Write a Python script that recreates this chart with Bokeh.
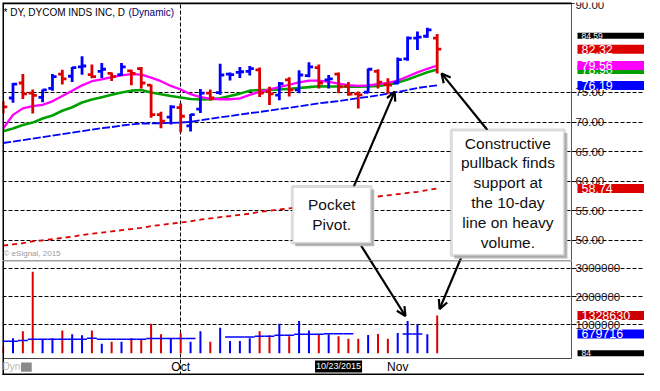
import numpy as np
from bokeh.plotting import figure
from bokeh.layouts import column
from bokeh.models import (Range1d, FixedTicker, NumeralTickFormatter, Label, Span,
                          BoxAnnotation, Arrow, OpenHead, ColumnDataSource, Grid)
from bokeh.embed import file_html
from bokeh.resources import INLINE

NAN = float("nan")

# ---------------- data ----------------
opens = [73.2, 74.06, 76.6, 74.87, 74.17, 75.68, 78.11, 77.74, 79.31, 78.01,
         78.55, 78.22, 78.01, 78.66, 79.03, 76.23, 71.25, 70.81, 72.43, 69.35,
         72.17, 74.87, 74.98, 78.11, 78.4, 78.55, 78.82, 75.14, 74.54, 77.14,
         75.42, 77.85, 79.2, 77.14, 78.11, 76.06, 74.77, 75.03, 78.55, 76.33,
         76.6, 80.66, 84.2, 84.5, 84.18]
highs = [73.5, 76.6, 78.11, 75.51, 75.51, 78.11, 78.82, 79.31, 81.1, 79.73,
         80.0, 78.39, 80.0, 78.82, 79.31, 76.33, 71.74, 72.82, 73.15, 71.36,
         75.58, 75.51, 79.85, 78.39, 79.31, 79.47, 79.2, 75.95, 76.76, 77.57,
         78.76, 80.12, 79.73, 77.95, 78.39, 76.76, 75.14, 79.03, 78.92, 77.41,
         80.93, 84.44, 85.31, 85.96, 84.87]
lows = [71.46, 73.24, 73.89, 71.46, 73.36, 75.3, 76.33, 76.76, 78.01, 77.41,
        77.46, 76.93, 77.85, 76.23, 75.68, 70.71, 68.93, 69.58, 68.28, 68.38,
        71.52, 73.63, 74.6, 77.04, 77.46, 77.85, 74.22, 72.87, 73.68, 74.33,
        74.87, 77.57, 75.68, 75.68, 74.87, 74.44, 72.27, 74.87, 75.68, 74.77,
        76.39, 80.38, 82.17, 84.23, 78.22]
closes = [72.55, 76.39, 74.77, 74.49, 75.42, 77.69, 77.3, 79.2, 79.47, 77.69,
          78.92, 77.69, 79.31, 78.22, 76.6, 71.25, 70.16, 72.55, 70.97, 71.25,
          74.87, 74.06, 77.95, 78.01, 78.5, 79.03, 74.87, 74.77, 76.49, 75.42,
          77.95, 79.31, 76.6, 77.3, 75.95, 74.7, 74.6, 78.92, 76.76, 76.23,
          80.54, 84.18, 84.35, 85.57, 82.32]
volumes = [260000, 530000, 770000, 2880000, 470000, 530000, 800000, 670000, 630000, 800000,
           330000, 400000, 400000, 530000, 470000, 1040000, 670000, 530000, 700000, 400000,
           770000, 400000, 900000, 430000, 430000, 530000, 770000, 630000, 1040000, 600000,
           1140000, 800000, 670000, 660000, 600000, 510000, 510000, 640000, 680000, 510000,
           710000, 1140000, 1000000, 670000, 1328630]
vol_avg = [420000, 420000, 450000, 490000, 490000, 490000, 490000, 490000, 490000, 530000,
           490000, 490000, 490000, 490000, 490000, 520000, 520000, 520000, 520000, 520000,
           NAN, NAN, NAN, 570000, 570000, 570000, 600000, 600000, 630000, 630000,
           670000, 670000, 670000, 690000, 690000, 690000, NAN, NAN, NAN, NAN,
           NAN, 679716, 679716, NAN, NAN]
ma10 = [68.9, 71.2, 72.3, 72.7, 72.9, 73.5, 74.4, 75.3, 76.2, 76.9,
        77.2, 77.6, 77.9, 78.1, 78.0, 77.5, 76.9, 76.1, 75.5, 74.7,
        74.2, 73.95, 73.85, 73.85, 74.0, 74.6, 75.1, 75.5, 75.9, 76.3,
        76.7, 77.0, 77.0, 76.8, 76.5, 76.25, 76.1, 76.2, 76.4, 76.6,
        77.0, 77.7, 78.4, 79.0, 79.56]
ma20 = [68.45, 68.9, 69.5, 69.9, 70.6, 71.1, 71.9, 72.5, 73.3, 73.8,
        74.2, 74.6, 75.0, 75.3, 75.4, 75.0, 74.7, 74.4, 74.15, 73.9,
        73.8, 73.85, 74.0, 74.4, 74.8, 75.3, 75.4, 75.42, 75.5, 75.6,
        75.75, 75.9, 76.05, 76.0, 76.0, 75.95, 75.95, 76.0, 76.1, 76.3,
        76.7, 77.2, 77.8, 78.4, 78.9]
ma50 = [66.45, 66.7, 66.95, 67.2, 67.45, 67.7, 67.95, 68.2, 68.45, 68.7,
        68.95, 69.15, 69.4, 69.6, 69.75, 69.75, 69.8, 69.85, 69.9, 70.05,
        70.3, 70.55, 70.8, 71.0, 71.25, 71.5, 71.7, 71.95, 72.2, 72.4,
        72.65, 72.9, 73.15, 73.35, 73.55, 73.8, 74.05, 74.25, 74.5, 74.8,
        75.1, 75.4, 75.75, 76.0, 76.19]
ma200 = [49.1, 49.3, 49.5, 49.8, 50.0, 50.2, 50.4, 50.6, 50.9, 51.1,
         51.3, 51.5, 51.7, 51.9, 52.1, 52.4, 52.6, 52.8, 53.0, 53.2,
         53.5, 53.7, 53.9, 54.1, 54.3, 54.5, 54.8, 55.0, 55.2, 55.4,
         55.6, 55.8, 56.1, 56.3, 56.5, 56.7, 56.9, 57.1, 57.4, 57.6,
         57.8, 58.0, 58.2, 58.5, 58.74]

# 80.00 and 85.00 sit fully under the value tags in the picture
price_ticks = [50, 55, 60, 65, 70, 75, 90]
price_grid = [50, 55, 60, 65, 70, 75]
vol_ticks = [1000000, 2000000, 3000000]
month_ticks = [18, 40]
month_labels = ["Oct", "Nov"]
cursor_index = 34
cursor_label = "10/23/2015"
last_high_tag = "84.59"
last_high_value = 84.59
title_main = "* DY, DYCOM INDS INC, D"
title_mode = "(Dynamic)"

# ---------------- styles / layout ----------------
RED = "#dd0000"
BLUE = "#0000ff"
MAG = "#ff00ff"
GREEN = "#00a000"
FONT = "Liberation Sans"
TICK = 0.42
TAG_X = 575          # screen px from the frame's left edge
X0, X1 = -0.064, 65.015
AXIS_X = 57.607      # where the price/volume scale sits
P0, P1 = 46.58, 90.21
V0, V1 = -790000, 3275000
V_AXIS = -190000     # bottom line of the volume pane
V_BAND = -719000     # top of the bottom black band

n = len(closes)
x = np.arange(n, dtype=float)
colors = [BLUE if (i > 0 and closes[i] > closes[i - 1]) else RED for i in range(n)]

src = ColumnDataSource(dict(
    x=x, xl=x - TICK, xr=x + TICK, a0=x - 0.5, a1=x + 0.5,
    open=np.array(opens), high=np.array(highs), low=np.array(lows), close=np.array(closes),
    vol=np.array(volumes, dtype=float), vavg=np.array(vol_avg, dtype=float),
    zero=np.zeros(n), color=colors,
    ma10=np.array(ma10), ma20=np.array(ma20), ma50=np.array(ma50), ma200=np.array(ma200),
))

XR = Range1d(X0, X1)


def style_yaxis(fig, ticks, fmt, bounds):
    fig.yaxis.ticker = FixedTicker(ticks=ticks)
    fig.yaxis.formatter = NumeralTickFormatter(format=fmt)
    for ax in fig.yaxis:
        ax.level = "underlay"
        ax.fixed_location = AXIS_X
        ax.bounds = bounds
        ax.axis_line_color = "#555555"
        ax.major_tick_line_color = "#333333"
        ax.major_tick_out = 3
        ax.major_tick_in = 0
        ax.minor_tick_out = 0
        ax.minor_tick_in = 0
        ax.major_label_standoff = 1
        ax.major_label_text_font = FONT
        ax.major_label_text_font_size = "11.5px"
        ax.major_label_text_color = "#101020"


def tag(fig, yv, text, bg, size="12.5px", fg="white"):
    fig.add_layout(Label(x=TAG_X, y=yv, x_units="screen", y_units="data", text=text,
                         text_color=fg, text_font=FONT, text_font_size=size,
                         text_baseline="middle", text_align="left", level="overlay",
                         background_fill_color=bg, background_fill_alpha=1.0,
                         padding=dict(left=4, right=70, top=0, bottom=0)))


# ---------------- price panel ----------------
p = figure(width=644, height=260, x_range=XR, y_range=Range1d(P0, P1),
           output_backend="svg", toolbar_location=None,
           x_axis_location=None, y_axis_location="right",
           min_border_left=2, min_border_right=0, min_border_top=2, min_border_bottom=0)
p.outline_line_color = None
style_yaxis(p, price_ticks, "0.00", "auto")

p.ygrid.ticker = FixedTicker(ticks=price_grid)
p.ygrid.grid_line_color = "black"
p.ygrid.grid_line_dash = "4 2"
p.ygrid.bounds = (X0, AXIS_X)
p.xgrid.visible = False
p.add_layout(Grid(dimension=0, ticker=FixedTicker(ticks=month_ticks[:1]),
                  grid_line_color="black", grid_line_dash="4 2"), "center")

# moving averages
p.line("x", "ma200", source=src, line_color=RED, line_width=1.8, line_dash="5 4")
p.line("x", "ma50", source=src, line_color=BLUE, line_width=1.8, line_dash="8 2")
p.line("x", "ma20", source=src, line_color=GREEN, line_width=2.6)
p.line("x", "ma10", source=src, line_color=MAG, line_width=2.3)

# OHLC bars
p.segment(x0="x", y0="low", x1="x", y1="high", source=src, line_color="color", line_width=2.8)
p.segment(x0="xl", y0="open", x1="x", y1="open", source=src, line_color="color", line_width=2.8)
p.segment(x0="x", y0="close", x1="xr", y1="close", source=src, line_color="color", line_width=2.8)

# frame edges
p.add_layout(Span(location=X0, dimension="height", line_color="black", line_width=3))
p.add_layout(BoxAnnotation(left=X0, right=AXIS_X, bottom=P1 - 0.3, top=P1 + 1,
                           fill_color="black", fill_alpha=1.0, line_color=None))

# title / copyright
p.add_layout(Label(x=1, y=88.6, x_units="screen", text=title_main, text_font=FONT,
                   text_font_size="10px", text_color="black", text_baseline="middle"))
p.add_layout(Label(x=126, y=88.6, x_units="screen", text=title_mode, text_font=FONT,
                   text_font_size="10px", text_color="#000070", text_baseline="middle"))
p.add_layout(Label(x=1, y=47.81, x_units="screen", text="\u00a9 eSignal, 2015", text_font=FONT,
                   text_font_size="8px", text_color="#9a9a9a", text_baseline="middle"))

tag(p, last_high_value, last_high_tag, "black", size="8.5px")
tag(p, closes[-1], f"{closes[-1]:.2f}", RED)
tag(p, ma20[-1], f"{ma20[-1]:.2f}", GREEN)
tag(p, ma10[-1], f"{ma10[-1]:.2f}", MAG)
tag(p, ma50[-1], f"{ma50[-1]:.2f}", BLUE)
tag(p, ma200[-1], f"{ma200[-1]:.2f}", RED)

# arrows in price panel (drawn before the boxes)
AW = 2.2
p.add_layout(Arrow(end=OpenHead(size=9, line_width=AW, line_color="black"),
                   x_start=35.54, y_start=59.08, x_end=39.69, y_end=75.14,
                   line_color="black", line_width=AW))
p.add_layout(Arrow(end=None, x_start=36.13, y_start=49.51, x_end=38.40, y_end=43.51,
                   line_color="black", line_width=AW))
p.add_layout(Arrow(end=OpenHead(size=9, line_width=AW, line_color="black"),
                   x_start=49.09, y_start=68.65, x_end=44.44, y_end=78.22,
                   line_color="black", line_width=AW))
p.add_layout(Arrow(end=None, x_start=46.52, y_start=47.41, x_end=45.54, y_end=43.51,
                   line_color="black", line_width=AW))


def note_box(fig, l, r, b, t, text, cx, cy):
    fig.add_layout(BoxAnnotation(left=l + 0.3, right=r + 0.3, bottom=b - 0.5, top=t - 0.5,
                                 fill_color="#b8b8b8", fill_alpha=1.0, line_color=None))
    fig.add_layout(BoxAnnotation(left=l, right=r, bottom=b, top=t,
                                 fill_color="white", fill_alpha=1.0,
                                 line_color="#8a8a8a", line_width=3))
    fig.add_layout(Label(x=cx, y=cy, text=text, text_font=FONT, text_font_size="15.5px",
                         text_color="#111111", text_align="center", text_baseline="middle",
                         text_line_height=1.17))


note_box(p, 29.31, 37.32, 49.51, 59.08, "Pocket\nPivot.", 33.3, 54.3)
note_box(p, 45.43, 56.90, 47.41, 68.65,
         "Constructive\npullback finds\nsupport at\nthe 10-day\nline on heavy\nvolume.",
         51.17, 58.03)

# ---------------- volume panel ----------------
v = figure(width=644, height=115, x_range=XR, y_range=Range1d(V0, V1),
           output_backend="svg", toolbar_location=None,
           x_axis_location="below", y_axis_location="right",
           min_border_left=2, min_border_right=0, min_border_top=0, min_border_bottom=0)
v.outline_line_color = None
style_yaxis(v, vol_ticks, "0", (V_AXIS, V1))

v.xaxis.ticker = FixedTicker(ticks=month_ticks)
v.xaxis.major_label_overrides = {t: lab for t, lab in zip(month_ticks, month_labels)}
for ax in v.xaxis:
    ax.fixed_location = V_AXIS
    ax.bounds = (X0, AXIS_X)
    ax.axis_line_color = "#444444"
    ax.major_tick_out = 0
    ax.major_tick_in = 0
    ax.minor_tick_out = 0
    ax.minor_tick_in = 0
    ax.major_label_standoff = 1
    ax.major_label_text_font = FONT
    ax.major_label_text_font_size = "12px"
    ax.major_label_text_color = "black"

v.ygrid.ticker = FixedTicker(ticks=vol_ticks)
v.ygrid.grid_line_color = "black"
v.ygrid.grid_line_dash = "4 2"
v.ygrid.bounds = (X0, AXIS_X)
v.xgrid.ticker = FixedTicker(ticks=month_ticks[:1])
v.xgrid.grid_line_color = "black"
v.xgrid.grid_line_dash = "4 2"
v.xgrid.bounds = (V_AXIS, V1)

v.segment(x0="x", y0="zero", x1="x", y1="vol", source=src, line_color="color", line_width=2)
v.segment(x0="a0", y0="vavg", x1="a1", y1="vavg", source=src, line_color=BLUE, line_width=1.5)

v.add_layout(Span(location=X0, dimension="height", line_color="black", line_width=3))
v.add_layout(BoxAnnotation(left=X0, right=AXIS_X, bottom=V1 - 30000, top=V1 + 50000,
                           fill_color="#444444", fill_alpha=1.0, line_color=None))

tag(v, volumes[-1], f"{volumes[-1]}", "#cc0000")
tag(v, 679716, "679716", BLUE)
tag(v, 0, "84", "black", size="8.5px")

v.add_layout(Arrow(end=OpenHead(size=9, line_width=AW, line_color="black"),
                   x_start=36.56, y_start=3651000, x_end=40.78, y_end=1312000,
                   line_color="black", line_width=AW))
v.add_layout(Arrow(end=OpenHead(size=9, line_width=AW, line_color="black"),
                   x_start=46.76, y_start=3651000, x_end=44.24, y_end=1559000,
                   line_color="black", line_width=AW))

v.add_layout(Label(x=cursor_index, y=-470000, text=cursor_label,
                   text_font=FONT, text_font_size="9px", text_color="white",
                   text_align="center", text_baseline="middle",
                   background_fill_color="black", background_fill_alpha=1.0, padding=1))
v.add_layout(Label(x=0, y=-470000, x_units="screen", text="Dyn",
                   text_font=FONT, text_font_size="10px", text_color="#b8b8b8",
                   text_baseline="middle"))
v.add_layout(BoxAnnotation(left=1.81, right=2.9, top=-330000, bottom=-660000,
                           fill_color="#8a8a8a", fill_alpha=1.0, line_color=None))
v.add_layout(BoxAnnotation(left=X0 - 1, right=X1 + 1, top=V_BAND, bottom=V0 - 100000,
                           fill_color="black", fill_alpha=1.0, line_color=None))

layout = column(p, v)
open("out.html", "w").write(file_html(layout, INLINE))
